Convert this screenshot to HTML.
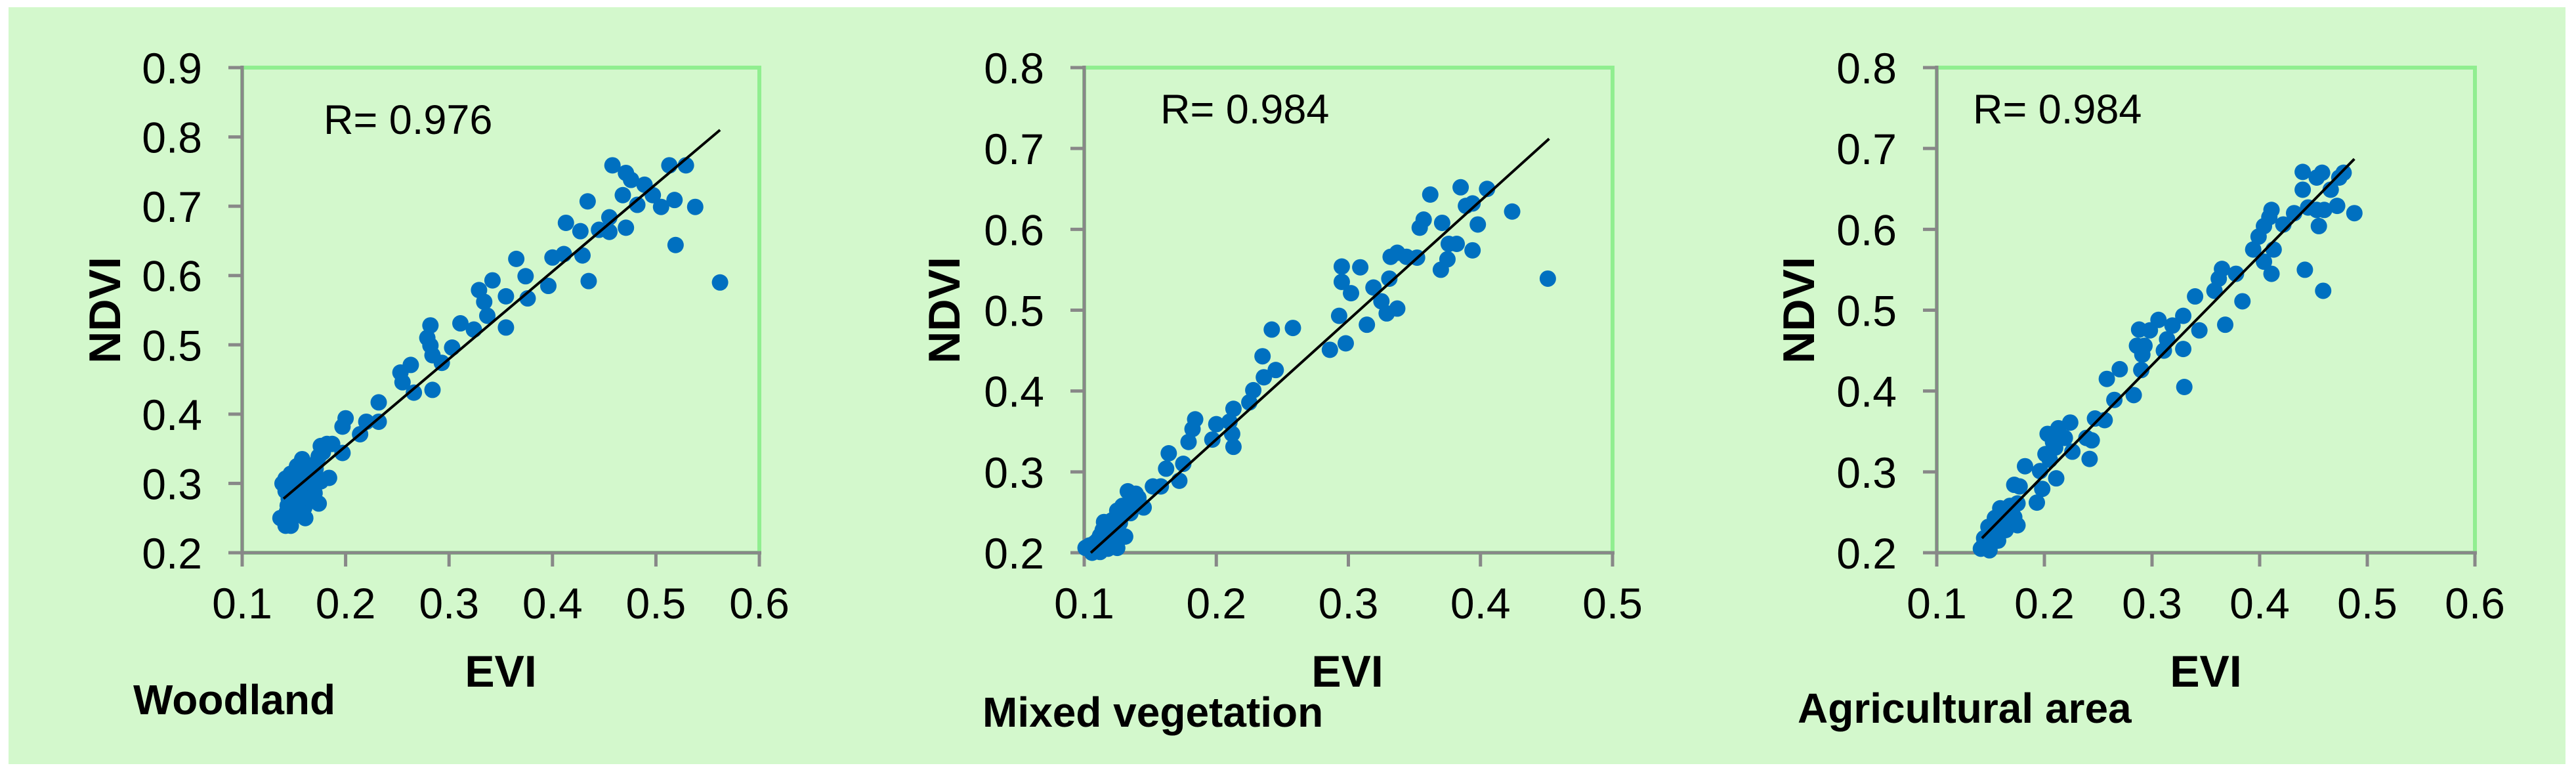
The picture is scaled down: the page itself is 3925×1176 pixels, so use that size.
<!DOCTYPE html>
<html><head><meta charset="utf-8"><style>
html,body{margin:0;padding:0;background:#fff;}
svg{display:block;font-family:"Liberation Sans",sans-serif;}
</style></head><body>
<svg id="fig" width="3925" height="1176" viewBox="0 0 3925 1176" xmlns="http://www.w3.org/2000/svg">
<rect x="13" y="11" width="3896" height="1153" fill="#d3f8cc"/>
</svg>
<script>
// Woodland
const woodX=[.458,.471,.476,.489,.497,.505,.513,.529,.518,.538,.519,.562,.482,.468,.471,.455,.455,.445,.434,.427,.429,.413,.411,.400,.396,.435,.374,.376,.365,.355,.355,.342,.329,.334,.337,.324,.311,.282,.279,.282,.284,.303,.293,.284,.266,.263,.253,.255,.232,.232,.220,.214,.200,.197,.197,.187,.184,.182,.176,.174,.174,.171,.166,.158,.153,.147,.142,.139,.142,.145,.137,.142,.147,.161,.155,.161,.168,.176,.153,.158,.150,.147,.154,.144,.149,.152,.157,.163,.166,.170,.143,.148,.156,.160,.165,.150,.145,.172,.178];
const woodY=[.759,.748,.738,.731,.716,.699,.759,.759,.709,.699,.644,.590,.702,.716,.669,.684,.663,.666,.707,.664,.629,.676,.631,.626,.585,.592,.599,.567,.624,.570,.525,.593,.579,.562,.542,.522,.531,.528,.510,.499,.485,.496,.474,.435,.431,.471,.460,.446,.417,.389,.389,.371,.394,.382,.344,.357,.308,.357,.354,.339,.271,.321,.296,.335,.325,.314,.307,.300,.289,.278,.250,.239,.246,.250,.261,.282,.293,.303,.289,.303,.257,.239,.275,.268,.283,.296,.312,.318,.305,.286,.258,.265,.270,.265,.278,.312,.297,.330,.345];
// Mixed vegetation
const mixX=[.385,.405,.362,.424,.389,.394,.398,.357,.354,.371,.376,.382,.375,.370,.394,.451,.337,.332,.344,.352,.331,.319,.309,.295,.295,.302,.325,.329,.337,.293,.314,.298,.286,.258,.242,.235,.245,.236,.228,.225,.213,.213,.212,.210,.200,.197,.184,.182,.179,.175,.172,.164,.162,.158,.152,.145,.139,.133,.135,.129,.125,.131,.123,.115,.125,.119,.112,.108,.101,.106,.112,.116,.121,.127,.110,.114,.118,.104,.109,.120,.123,.117,.113,.137,.141];
const mixY=[.652,.650,.643,.622,.629,.632,.606,.612,.602,.608,.582,.582,.563,.550,.574,.539,.571,.566,.566,.565,.539,.528,.553,.554,.535,.521,.511,.496,.502,.493,.482,.459,.451,.478,.476,.443,.426,.417,.401,.386,.378,.331,.347,.362,.359,.340,.365,.353,.337,.310,.289,.323,.304,.282,.282,.256,.273,.276,.249,.258,.252,.220,.232,.238,.206,.212,.221,.212,.206,.200,.201,.224,.240,.237,.215,.228,.205,.209,.203,.218,.222,.232,.210,.262,.268];
// Agricultural area
const agrX=[.440,.458,.453,.478,.474,.466,.440,.445,.453,.460,.472,.488,.455,.432,.422,.411,.409,.404,.399,.394,.413,.404,.411,.442,.459,.384,.378,.365,.362,.358,.340,.368,.344,.329,.329,.330,.319,.314,.311,.306,.298,.293,.291,.288,.286,.290,.283,.270,.265,.258,.256,.247,.244,.242,.239,.226,.224,.219,.213,.203,.208,.201,.211,.198,.196,.182,.177,.172,.193,.175,.170,.159,.154,.149,.144,.141,.149,.157,.164,.175,.172,.146,.152,.160,.166,.143,.155,.163,.168,.148,.205,.210,.215];
const agrY=[.671,.670,.664,.670,.664,.649,.649,.627,.624,.624,.629,.620,.604,.620,.606,.624,.615,.604,.591,.575,.575,.560,.545,.550,.524,.511,.545,.551,.539,.524,.517,.482,.475,.493,.452,.405,.481,.464,.450,.488,.475,.456,.445,.476,.456,.426,.395,.427,.389,.415,.364,.366,.339,.316,.342,.325,.361,.342,.354,.347,.337,.322,.292,.279,.301,.307,.282,.284,.262,.261,.249,.255,.243,.231,.218,.205,.203,.215,.228,.234,.244,.212,.222,.238,.246,.208,.226,.240,.258,.232,.315,.330,.345];
// ticks
const ticks1X=[0.1,0.2,0.3,0.4,0.5,0.6];
const ticks1Y=[0.2,0.3,0.4,0.5,0.6,0.7,0.8,0.9];
const ticks2X=[0.1,0.2,0.3,0.4,0.5];
const ticks2Y=[0.2,0.3,0.4,0.5,0.6,0.7,0.8];
const ticks3X=[0.1,0.2,0.3,0.4,0.5,0.6];
const ticks3Y=[0.2,0.3,0.4,0.5,0.6,0.7,0.8];
// fit line endpoints [x0,y0,x1,y1]
const fit1=[0.140,0.278,0.562,0.810];
const fit2=[0.105,0.200,0.452,0.712];
const fit3=[0.142,0.218,0.488,0.687];

const NS="http://www.w3.org/2000/svg";
const svg=document.getElementById('fig');
function mk(tag,attrs,parent){const e=document.createElementNS(NS,tag);for(const k in attrs)e.setAttribute(k,attrs[k]);(parent||svg).appendChild(e);return e;}

const panels=[
 {id:'woodland',L:369,R:1157,T:103,B:842,xs:ticks1X,ys:ticks1Y,px:woodX,py:woodY,fit:fit1,r:'R= 0.976',rx:493,ry:204,evi:763,ndvi:158,lab:'Woodland',lx:203,ly:1088},
 {id:'mixed',L:1652,R:2457,T:103,B:842,xs:ticks2X,ys:ticks2Y,px:mixX,py:mixY,fit:fit2,r:'R= 0.984',rx:1768,ry:188,evi:2053,ndvi:1437,lab:'Mixed vegetation',lx:1497,ly:1107},
 {id:'agricultural',L:2951,R:3771,T:103,B:842,xs:ticks3X,ys:ticks3Y,px:agrX,py:agrY,fit:fit3,r:'R= 0.984',rx:3006,ry:188,evi:3361,ndvi:2739,lab:'Agricultural area',lx:2739,ly:1101}
];
panels.forEach(p=>{
 const g=mk('g',{});
 
 
 const x0=p.xs[0],x1=p.xs[p.xs.length-1],y0=p.ys[0],y1=p.ys[p.ys.length-1];
 const sx=v=>p.L+(v-x0)/(x1-x0)*(p.R-p.L);
 const sy=v=>p.B-(v-y0)/(y1-y0)*(p.B-p.T);
 const fr=mk('rect',{x:p.L,y:p.T,width:p.R-p.L,height:p.B-p.T,fill:'none',stroke:'#90ee90','stroke-width':6},g);
 
 
 p.ys.forEach(v=>{
  const t=mk('line',{x1:p.L-21,x2:p.L,y1:sy(v),y2:sy(v),stroke:'#888','stroke-width':5},g);
  
  
  const tx=mk('text',{x:p.L-61,y:sy(v)+24,'font-size':66,'text-anchor':'end',fill:'#000'},g);
  tx.textContent=v.toFixed(1);
  
  
 });
 p.xs.forEach(v=>{
  const t=mk('line',{x1:sx(v),x2:sx(v),y1:p.B,y2:p.B+21,stroke:'#888','stroke-width':5},g);
  
  
  const tx=mk('text',{x:sx(v),y:942,'font-size':66,'text-anchor':'middle',fill:'#000'},g);
  tx.textContent=v.toFixed(1);
  
  
 });
 const ya=mk('line',{x1:p.L,x2:p.L,y1:p.T-3,y2:p.B+2,stroke:'#888','stroke-width':5},g);
 
 
 const xa=mk('line',{x1:p.L-2,x2:p.R+3,y1:p.B,y2:p.B,stroke:'#888','stroke-width':5},g);
 
 
 p.px.forEach((v,i)=>{
  const c=mk('circle',{cx:sx(v),cy:sy(p.py[i]),r:12.5,fill:'#0070c0'},g);
  
  
 });
 const fl=mk('line',{x1:sx(p.fit[0]),y1:sy(p.fit[1]),x2:sx(p.fit[2]),y2:sy(p.fit[3]),stroke:'#000','stroke-width':4},g);
 
 
 const rt=mk('text',{x:p.rx,y:p.ry,'font-size':63,fill:'#000'},g);
 rt.textContent=p.r;
 
 
 const et=mk('text',{x:p.evi,y:1046,'font-size':68,'font-weight':'bold','text-anchor':'middle',fill:'#000'},g);
 et.textContent='EVI';
 
 
 const nt=mk('text',{x:0,y:0,'font-size':68,'font-weight':'bold','text-anchor':'middle',fill:'#000',transform:'translate('+(p.ndvi+25)+','+((p.T+p.B)/2)+') rotate(-90)'},g);
 nt.textContent='NDVI';
 
 
 const lt=mk('text',{x:p.lx,y:p.ly,'font-size':64,'font-weight':'bold',fill:'#000'},g);
 lt.textContent=p.lab;
 
 
});
</script>
</body></html>
